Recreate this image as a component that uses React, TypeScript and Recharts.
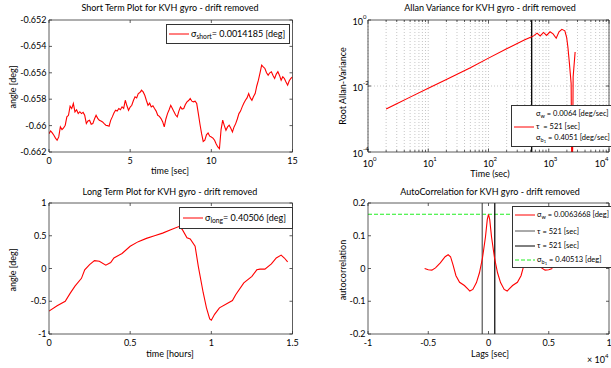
import React from 'react';
import { LineChart, Line, XAxis, YAxis, ReferenceLine, CartesianGrid } from 'recharts';

const FONT = 'Lato, "DejaVu Sans", sans-serif';
const W = 611;
const H = 368;

// ---------- Short term plot ----------
const shortTime = Array.from({ length: 151 }, (_, i) => i / 10);
const shortAngle = [
  -0.66061, -0.6604, -0.66055, -0.66073, -0.66095, -0.66111, -0.66086, -0.6601, -0.6603, -0.66018,
  -0.65997, -0.65934, -0.65922, -0.65853, -0.65871, -0.65833, -0.65896, -0.6588, -0.65909, -0.65895,
  -0.65909, -0.659, -0.65922, -0.65985, -0.65965, -0.65959, -0.6599, -0.65985, -0.6595, -0.65922,
  -0.65945, -0.65959, -0.65965, -0.65972, -0.65985, -0.65997, -0.66, -0.66005, -0.6596, -0.65934,
  -0.65905, -0.65884, -0.6589, -0.65871, -0.6588, -0.65858, -0.6587, -0.65808, -0.6585, -0.65884,
  -0.6586, -0.65846, -0.6581, -0.65782, -0.6579, -0.65757, -0.6575, -0.65732, -0.65745, -0.6577,
  -0.6581, -0.65846, -0.6583, -0.65858, -0.6585, -0.65871, -0.6589, -0.65922, -0.6593, -0.65947,
  -0.6597, -0.6601, -0.6595, -0.65909, -0.6588, -0.65846, -0.6587, -0.65896, -0.6592, -0.65934,
  -0.6589, -0.65858, -0.65875, -0.65871, -0.6584, -0.6582, -0.6581, -0.65795, -0.65815, -0.6582,
  -0.65815, -0.65833, -0.65909, -0.6599, -0.66061, -0.6612, -0.66111, -0.6607, -0.66056, -0.6608,
  -0.66086, -0.66095, -0.66111, -0.6614, -0.66162, -0.66175, -0.6603, -0.65959, -0.66, -0.66035,
  -0.6601, -0.65997, -0.6602, -0.66048, -0.6601, -0.65985, -0.6595, -0.65909, -0.6589, -0.65858,
  -0.6583, -0.65808, -0.6579, -0.65757, -0.6579, -0.65808, -0.6578, -0.65757, -0.657, -0.65656,
  -0.656, -0.65542, -0.65555, -0.65567, -0.656, -0.65618, -0.656, -0.65592, -0.6562, -0.65643,
  -0.6561, -0.65592, -0.6562, -0.65656, -0.6563, -0.65643, -0.6567, -0.65694, -0.6566, -0.65643,
  -0.6563,
];
const shortXTicks = [0, 5, 10, 15];
const shortYTicks = [-0.662, -0.66, -0.658, -0.656, -0.654, -0.652];

// ---------- Allan variance ----------
const allanTau = [2, 3, 5, 10, 20, 50, 100, 200, 300, 400, 500, 560, 640, 720, 820, 920, 1050, 1180, 1330, 1480, 1650, 1850, 1980, 2080, 2200, 2353, 2445, 2540, 2740];
const allanSigma = [0.002, 0.0029, 0.0046, 0.0085, 0.0158, 0.036, 0.07, 0.135, 0.195, 0.25, 0.3, 0.33, 0.4, 0.33, 0.42, 0.34, 0.44, 0.38, 0.28, 0.44, 0.52, 0.47, 0.3, 0.15, 0.05, 0.012, 0.000001, 0.019, 0.107];
const allanXTicks = [1, 2, 3, 4, 5, 6, 7, 8, 9, 10, 20, 30, 40, 50, 60, 70, 80, 90, 100, 200, 300, 400, 500, 600, 700, 800, 900, 1000, 2000, 3000, 4000, 5000, 6000, 7000, 8000, 9000, 10000];
const allanYTicks = [0.0001, 0.01, 1];
const allanGridY = 0.01;
const allanTauMark = 521;

// ---------- Long term plot ----------
const longTime = [0, 0.05, 0.1, 0.13, 0.16, 0.2, 0.22, 0.25, 0.28, 0.31, 0.35, 0.38, 0.4, 0.45, 0.5, 0.55, 0.6, 0.65, 0.7, 0.75, 0.8, 0.82, 0.85, 0.87, 0.9, 0.92, 0.95, 0.97, 0.99, 1.0, 1.02, 1.05, 1.1, 1.13, 1.15, 1.2, 1.25, 1.28, 1.3, 1.33, 1.37, 1.4, 1.43, 1.45, 1.47];
const longAngle = [-0.65, -0.57, -0.5, -0.38, -0.27, -0.15, -0.02, 0.06, 0.12, 0.11, 0.05, 0.09, 0.16, 0.23, 0.34, 0.41, 0.46, 0.5, 0.54, 0.59, 0.64, 0.6, 0.47, 0.45, 0.34, 0.03, -0.37, -0.6, -0.77, -0.79, -0.7, -0.6, -0.53, -0.49, -0.4, -0.22, -0.12, -0.02, -0.01, -0.01, 0.07, 0.16, 0.205, 0.16, 0.1];
const longXTicks = [0, 0.5, 1, 1.5];
const longYTicks = [-1, -0.5, 0, 0.5, 1];

// ---------- Autocorrelation (lags in units of 1e4 sec) ----------
const acLags = [-0.53, -0.5, -0.47, -0.44, -0.4, -0.36, -0.335, -0.315, -0.295, -0.27, -0.24, -0.2, -0.17, -0.155, -0.13, -0.1, -0.075, -0.05, -0.025, -0.01, 0, 0.01, 0.025, 0.05, 0.075, 0.1, 0.13, 0.155, 0.17, 0.2, 0.24, 0.27, 0.295, 0.315, 0.335, 0.36, 0.4, 0.44, 0.47, 0.5, 0.53];
const acValues = [0, -0.004, -0.005, 0.002, 0.017, 0.036, 0.042, 0.036, 0.012, -0.022, -0.042, -0.052, -0.063, -0.069, -0.064, -0.043, -0.013, 0.032, 0.097, 0.15, 0.165, 0.15, 0.097, 0.032, -0.013, -0.043, -0.064, -0.069, -0.063, -0.052, -0.042, -0.022, 0.012, 0.036, 0.042, 0.036, 0.017, 0.002, -0.005, -0.004, 0];
const acXTicks = [-1, -0.5, 0, 0.5, 1];
const acYTicks = [-0.2, -0.1, 0, 0.1, 0.2];
const acTau = 0.0521;
const acSigmaB = 0.1655;

const shortData = shortTime.map((t, i) => ({ x: t, y: shortAngle[i] }));
const allanData = allanTau.map((t, i) => ({ x: t, y: allanSigma[i] }));
const longData = longTime.map((t, i) => ({ x: t, y: longAngle[i] }));
const acData = acLags.map((t, i) => ({ x: t, y: acValues[i] }));

type Side = 'bottom' | 'left' | 'top' | 'right';
const AX = '#333';

const fmtNum = (v: number) => String(v);
const isDecade = (v: number) => Math.abs(Math.log10(v) - Math.round(Math.log10(v))) < 1e-9;

const makeTick = (side: Side, label: null | 'num' | 'pow', lenFn?: (v: number) => number) => (props: any) => {
  const { x, y, payload } = props;
  const v = payload.value as number;
  const len = lenFn ? lenFn(v) : 3;
  let l: any;
  if (side === 'bottom') l = { x1: x, y1: y, x2: x, y2: y - len };
  else if (side === 'top') l = { x1: x, y1: y, x2: x, y2: y + len };
  else if (side === 'left') l = { x1: x, y1: y, x2: x + len, y2: y };
  else l = { x1: x, y1: y, x2: x - len, y2: y };
  let text: React.ReactNode = null;
  const tp = { fontFamily: FONT, fontSize: 9, fill: '#000' };
  if (label === 'num') {
    if (side === 'bottom') text = <text x={x} y={y + 12} textAnchor="middle" {...tp}>{fmtNum(v)}</text>;
    if (side === 'left') text = <text x={x - 2.5} y={y + 3} textAnchor="end" {...tp}>{fmtNum(v)}</text>;
  } else if (label === 'pow' && isDecade(v)) {
    const e = Math.round(Math.log10(v));
    if (side === 'bottom') {
      // keep the last label inside the page edge
      const shift = x > 600 ? -9 : 0;
      text = (
        <g>
          <text x={x + shift} y={y + 15} textAnchor="middle" {...tp}>10</text>
          <text x={x + shift + 5} y={y + 9} textAnchor="start" {...tp} fontSize={6}>{e}</text>
        </g>
      );
    }
    if (side === 'left') {
      text = (
        <g>
          <text x={x - 5} y={y + 4.5} textAnchor="end" {...tp}>10</text>
          <text x={x - 5} y={y - 1.5} textAnchor="start" {...tp} fontSize={6}>{e}</text>
        </g>
      );
    }
  }
  return (
    <g>
      <line {...l} stroke={AX} strokeWidth={0.8} />
      {text}
    </g>
  );
};

const Txt = ({ x, y, children, rot, size = 9 }: { x: number; y: number; children: React.ReactNode; rot?: boolean; size?: number }) => (
  <div
    style={{
      position: 'absolute',
      left: x,
      top: y,
      transform: `translate(-50%,-50%)${rot ? ' rotate(-90deg)' : ''}`,
      whiteSpace: 'nowrap',
      fontSize: size,
      lineHeight: 1,
      fontFamily: FONT,
      color: '#000',
    }}
  >
    {children}
  </div>
);

const Sub = ({ children }: { children: React.ReactNode }) => (
  <span style={{ fontSize: '0.75em', position: 'relative', top: '0.35em' }}>{children}</span>
);

const Sample = ({ color, dash, w = 20 }: { color: string; dash?: string; w?: number }) => (
  <svg width={w} height={4} style={{ display: 'inline-block', verticalAlign: 'middle', marginRight: 2 }}>
    <line x1={0} y1={2} x2={w} y2={2} stroke={color} strokeWidth={1} strokeDasharray={dash} />
  </svg>
);

type Box = { l: number; r: number; t: number; b: number };

const Panel = ({
  box, data, xDomain, yDomain, xTicks, yTicks, log, children,
}: {
  box: Box; data: any[]; xDomain: [number, number]; yDomain: [number, number];
  xTicks: number[]; yTicks: number[]; log?: boolean; children?: React.ReactNode;
}) => {
  const scale = log ? 'log' : 'linear';
  const lenX = log ? (v: number) => (isDecade(v) ? 3.5 : 2) : undefined;
  return (
    <div style={{ position: 'absolute', left: 0, top: 0 }}>
      <LineChart
        width={W}
        height={H}
        data={data}
        margin={{ left: box.l - 1, top: box.t - 1, right: W - box.r - 1, bottom: H - box.b - 1 }}
      >
        {log && (
          <CartesianGrid stroke="#b8b8b8" strokeDasharray="1 2" strokeWidth={0.8} vertical horizontal={false} />
        )}
        {log && (
          <ReferenceLine xAxisId={0} yAxisId={0} y={allanGridY} stroke="#b8b8b8" strokeDasharray="1 2" strokeWidth={0.8} />
        )}
        <XAxis
          xAxisId={0}
          dataKey="x"
          type="number"
          scale={scale}
          domain={xDomain}
          allowDataOverflow
          ticks={xTicks}
          interval={0}
          height={1}
          tickSize={0}
          tickMargin={0}
          axisLine={{ stroke: AX, strokeWidth: 0.8 }}
          tickLine={false}
          tick={makeTick('bottom', log ? 'pow' : 'num', lenX)}
        />
        <XAxis
          xAxisId="top"
          orientation="top"
          dataKey="x"
          type="number"
          scale={scale}
          domain={xDomain}
          allowDataOverflow
          ticks={xTicks}
          interval={0}
          height={1}
          tickSize={0}
          tickMargin={0}
          axisLine={{ stroke: AX, strokeWidth: 0.8 }}
          tickLine={false}
          tick={makeTick('top', null, lenX)}
        />
        <YAxis
          yAxisId={0}
          type="number"
          scale={scale}
          domain={yDomain}
          allowDataOverflow
          ticks={yTicks}
          interval={0}
          width={1}
          tickSize={0}
          tickMargin={0}
          axisLine={{ stroke: AX, strokeWidth: 0.8 }}
          tickLine={false}
          tick={makeTick('left', log ? 'pow' : 'num')}
        />
        <YAxis
          yAxisId="right"
          orientation="right"
          type="number"
          scale={scale}
          domain={yDomain}
          allowDataOverflow
          ticks={yTicks}
          interval={0}
          width={1}
          tickSize={0}
          tickMargin={0}
          axisLine={{ stroke: AX, strokeWidth: 0.8 }}
          tickLine={false}
          tick={makeTick('right', null)}
        />
        {children}
        <Line
          xAxisId={0}
          yAxisId={0}
          dataKey="y"
          type="linear"
          stroke="#ff0000"
          strokeWidth={1.1}
          dot={false}
          isAnimationActive={false}
        />
      </LineChart>
    </div>
  );
};

const legendBox = (l: number, t: number, w: number, h: number): React.CSSProperties => ({
  position: 'absolute',
  left: l,
  top: t,
  width: w,
  height: h,
  border: '1px solid #333',
  background: '#fff',
  boxSizing: 'border-box',
  fontFamily: FONT,
  whiteSpace: 'nowrap',
});

const Row = ({ top, left, children, size }: { top: number; left: number; children: React.ReactNode; size: number }) => (
  <div style={{ position: 'absolute', top, left, fontSize: size, lineHeight: 1, display: 'flex', alignItems: 'center' }}>{children}</div>
);

export default function App() {
  const A: Box = { l: 49, r: 292.5, t: 20, b: 152 };
  const B: Box = { l: 368, r: 609, t: 20, b: 152 };
  const C: Box = { l: 49, r: 292.5, t: 203, b: 334 };
  const D: Box = { l: 368, r: 609, t: 203, b: 334 };
  return (
    <div style={{ position: 'absolute', left: 0, top: 0, width: W, height: H, overflow: 'hidden', background: '#fff' }}>
      <Panel box={A} data={shortData} xDomain={[0, 15]} yDomain={[-0.662, -0.652]} xTicks={shortXTicks} yTicks={shortYTicks} />
      <Panel box={B} data={allanData} xDomain={[1, 10000]} yDomain={[0.0001, 1]} xTicks={allanXTicks} yTicks={allanYTicks} log>
        <ReferenceLine xAxisId={0} yAxisId={0} x={allanTauMark} stroke="#000" strokeWidth={1.3} />
      </Panel>
      <Panel box={C} data={longData} xDomain={[0, 1.5]} yDomain={[-1, 1]} xTicks={longXTicks} yTicks={longYTicks} />
      <Panel box={D} data={acData} xDomain={[-1, 1]} yDomain={[-0.2, 0.2]} xTicks={acXTicks} yTicks={acYTicks}>
        <ReferenceLine xAxisId={0} yAxisId={0} y={acSigmaB} stroke="#22ee22" strokeDasharray="4 2" strokeWidth={1.1} />
        <ReferenceLine xAxisId={0} yAxisId={0} x={-acTau} stroke="#555" strokeWidth={1.2} />
        <ReferenceLine xAxisId={0} yAxisId={0} x={acTau} stroke="#000" strokeWidth={1.2} />
      </Panel>

      {/* titles */}
      <Txt x={170} y={7}>Short Term Plot for KVH gyro - drift removed</Txt>
      <Txt x={490} y={7}>Allan Variance for KVH gyro - drift removed</Txt>
      <Txt x={170} y={191}>Long Term Plot for KVH gyro - drift removed</Txt>
      <Txt x={490} y={191}>AutoCorrelation for KVH gyro - drift removed</Txt>

      {/* axis labels */}
      <Txt x={170} y={170}>time [sec]</Txt>
      <Txt x={12} y={87} rot>angle [deg]</Txt>
      <Txt x={490} y={173}>Time (sec)</Txt>
      <Txt x={342} y={86} rot>Root Allan-Variance</Txt>
      <Txt x={170} y={353}>time [hours]</Txt>
      <Txt x={12} y={270} rot>angle [deg]</Txt>
      <Txt x={490} y={353}>Lags [sec]</Txt>
      <Txt x={342} y={270} rot>autocorrelation</Txt>
      <div style={{ position: 'absolute', left: 587, top: 355, fontFamily: FONT, fontSize: 9, whiteSpace: 'nowrap', lineHeight: 1 }}>
        × 10<span style={{ fontSize: 6, position: 'relative', top: -5 }}>4</span>
      </div>

      {/* legends */}
      <div style={legendBox(166, 24, 124, 20)}>
        <Row top={4} left={2} size={9}>
          <Sample color="#ff0000" />
          <span>σ<Sub>short</Sub>= 0.0014185 [deg]</span>
        </Row>
      </div>
      <div style={legendBox(179, 207, 114, 22)}>
        <Row top={5} left={3} size={9}>
          <Sample color="#ff0000" />
          <span>σ<Sub>long</Sub>= 0.40506 [deg]</span>
        </Row>
      </div>
      <div style={legendBox(511, 105, 110, 42)}>
        <Row top={4} left={24} size={7.5}>
          <span>σ<Sub>w</Sub> = 0.0064 [deg/sec]</span>
        </Row>
        <Row top={17} left={2} size={7.5}>
          <Sample color="#ff0000" />
          <span>τ&nbsp; = 521 [sec]</span>
        </Row>
        <Row top={28} left={24} size={7.5}>
          <span>σ<Sub>b<Sub>1</Sub></Sub> = 0.4051 [deg/sec]</span>
        </Row>
      </div>
      <div style={legendBox(512, 206, 110, 62)}>
        <Row top={4} left={2} size={7.5}>
          <Sample color="#ff0000" />
          <span>σ<Sub>w</Sub> = 0.0063668 [deg]</span>
        </Row>
        <Row top={20.5} left={2} size={7.5}>
          <Sample color="#555" />
          <span>τ = 521 [sec]</span>
        </Row>
        <Row top={35} left={2} size={7.5}>
          <Sample color="#000" />
          <span>τ = 521 [sec]</span>
        </Row>
        <Row top={49} left={2} size={7.5}>
          <Sample color="#22ee22" dash="4 2" />
          <span>σ<Sub>b<Sub>1</Sub></Sub> = 0.40513 [deg]</span>
        </Row>
      </div>
    </div>
  );
}
